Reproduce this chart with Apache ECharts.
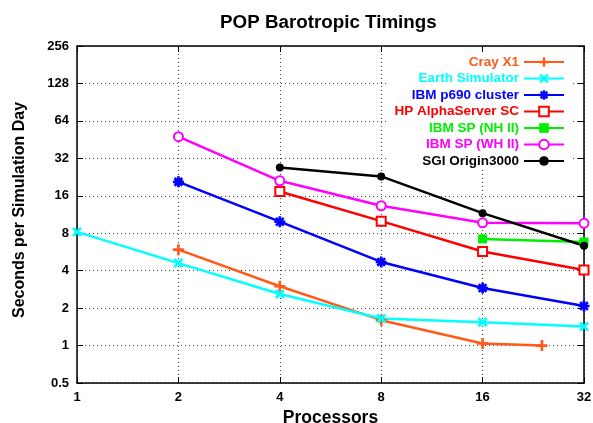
<!DOCTYPE html>
<html>
<head>
<meta charset="utf-8">
<script src="https://cdn.jsdelivr.net/npm/echarts@6/dist/echarts.min.js"></script>
<style>
    html, body { margin: 0; padding: 0; background: #fff; }
    #main { width: 593px; height: 423px; }
</style>
</head>
<body>
<div id="main"></div>
<script>
    // values (processors, seconds per simulation day)
    const crayProcs  = [2, 4, 8, 16, 24];
    const crayTimes  = [5.9, 3.0, 1.6, 1.04, 1.0];
    const earthProcs = [1, 2, 4, 8, 16, 32];
    const earthTimes = [8.2, 4.6, 2.6, 1.65, 1.54, 1.42];
    const p690Procs  = [2, 4, 8, 16, 32];
    const p690Times  = [20.7, 9.9, 4.7, 2.9, 2.08];
    const hpProcs    = [4, 8, 16, 32];
    const hpTimes    = [17.3, 10.0, 5.7, 4.05];
    const nhProcs    = [16, 32];
    const nhTimes    = [7.2, 6.8];
    const whProcs    = [2, 4, 8, 16, 32];
    const whTimes    = [47.8, 21.1, 13.3, 9.7, 9.6];
    const sgiProcs   = [4, 8, 16, 32];
    const sgiTimes   = [27.0, 22.9, 11.6, 6.35];

    const font = '"Liberation Sans", Arial, sans-serif';

    // marker shapes (gnuplot style)
    const plusPath = 'path://M-5,-1.2 L5,-1.2 L5,1.2 L-5,1.2 Z M-1.2,-5 L1.2,-5 L1.2,5 L-1.2,5 Z';
    const crossPath = 'path://M-2.65,-4.35 L4.35,2.65 L2.65,4.35 L-4.35,-2.65 Z M4.35,-2.65 L-2.65,4.35 L-4.35,2.65 L2.65,-4.35 Z';
    const starPath = 'path://M-5,-1.2 L5,-1.2 L5,1.2 L-5,1.2 Z M-1.2,-5 L1.2,-5 L1.2,5 L-1.2,5 Z ' +
        'M-2.65,-4.35 L4.35,2.65 L2.65,4.35 L-4.35,-2.65 Z M4.35,-2.65 L-2.65,4.35 L-4.35,2.65 L2.65,-4.35 Z';

    function pairs(xs, ys) {
        return xs.map(function (x, i) { return [x, ys[i]]; });
    }

    function makeSeries(name, xs, ys, color, symbol, size, border) {
        return {
            name: name,
            type: 'line',
            data: pairs(xs, ys),
            symbol: symbol,
            symbolSize: size,
            showSymbol: true,
            lineStyle: { color: color, width: 2.5 },
            itemStyle: { color: color, borderColor: color, borderWidth: border },
            emphasis: { disabled: true }
        };
    }

    const series = [
        makeSeries('Cray X1', crayProcs, crayTimes, '#ff5a1a', plusPath, 11, 0),
        makeSeries('Earth Simulator', earthProcs, earthTimes, '#00ffff', crossPath, 10, 0),
        makeSeries('IBM p690 cluster', p690Procs, p690Times, '#0000ff', starPath, 11, 0),
        makeSeries('HP AlphaServer SC', hpProcs, hpTimes, '#ff0000', 'emptyRect', 9, 2.2),
        makeSeries('IBM SP (NH II)', nhProcs, nhTimes, '#00ee00', 'rect', 9, 0),
        makeSeries('IBM SP (WH II)', whProcs, whTimes, '#ff00ff', 'emptyCircle', 9, 2.2),
        makeSeries('SGI Origin3000', sgiProcs, sgiTimes, '#000000', 'circle', 8, 0)
    ];

    const gridDots = { show: true, lineStyle: { color: '#444', type: [1, 3], width: 1 } };
    const boxLine = { show: true, onZero: false, lineStyle: { color: '#000', width: 1.5 } };
    const tickIn = { show: true, inside: true, length: 6, lineStyle: { color: '#000', width: 1 } };
    const labelFmt = function (v) { return String(+Number(v).toPrecision(6)); };

    const chart = echarts.init(document.getElementById('main'), null, { renderer: 'canvas' });
    chart.setOption({
        animation: false,
        backgroundColor: '#fff',
        title: {
            text: 'POP Barotropic Timings',
            left: 215,
            top: 8,
            textStyle: { fontFamily: font, fontSize: 18.8, fontWeight: 'bold', color: '#000' }
        },
        legend: {
            orient: 'vertical',
            right: 22,
            top: 52,
            align: 'right',
            itemWidth: 40,
            itemHeight: 12,
            itemGap: 2.5,
            padding: [3, 6, 2, 6],
            backgroundColor: '#fff',
            textStyle: { fontFamily: font, fontSize: 13.5, fontWeight: 'bold' },
            data: series.map(function (s) {
                return { name: s.name, textStyle: { color: s.lineStyle.color } };
            })
        },
        grid: { left: 77, right: 9, top: 46, bottom: 40, outerBoundsMode: 'none' },
        xAxis: [{
            type: 'log',
            logBase: 2,
            min: 1,
            max: 32,
            splitNumber: 5,
            name: 'Processors',
            nameLocation: 'middle',
            nameGap: 22,
            nameTextStyle: { fontFamily: font, fontSize: 17.5, fontWeight: 'bold', color: '#000' },
            axisLine: boxLine,
            axisTick: tickIn,
            axisLabel: { fontFamily: font, fontSize: 13, fontWeight: 'bold', color: '#000', margin: 8, formatter: labelFmt },
            splitLine: gridDots,
            minorTick: { show: false }
        }, {
            type: 'log',
            logBase: 2,
            min: 1,
            max: 32,
            splitNumber: 5,
            position: 'top',
            axisLine: boxLine,
            axisTick: tickIn,
            axisLabel: { show: false },
            splitLine: { show: false }
        }],
        yAxis: [{
            type: 'log',
            logBase: 2,
            min: 0.5,
            max: 256,
            splitNumber: 9,
            name: 'Seconds per Simulation Day',
            nameLocation: 'middle',
            nameGap: 49,
            nameTextStyle: { fontFamily: font, fontSize: 16, fontWeight: 'bold', color: '#000', padding: [0, 0, 0, 9] },
            axisLine: boxLine,
            axisTick: tickIn,
            axisLabel: { fontFamily: font, fontSize: 13, fontWeight: 'bold', color: '#000', margin: 8, formatter: labelFmt },
            splitLine: gridDots
        }, {
            type: 'log',
            logBase: 2,
            min: 0.5,
            max: 256,
            splitNumber: 9,
            position: 'right',
            axisLine: boxLine,
            axisTick: tickIn,
            axisLabel: { show: false },
            splitLine: { show: false }
        }],
        series: series
    });
</script>
</body>
</html>
